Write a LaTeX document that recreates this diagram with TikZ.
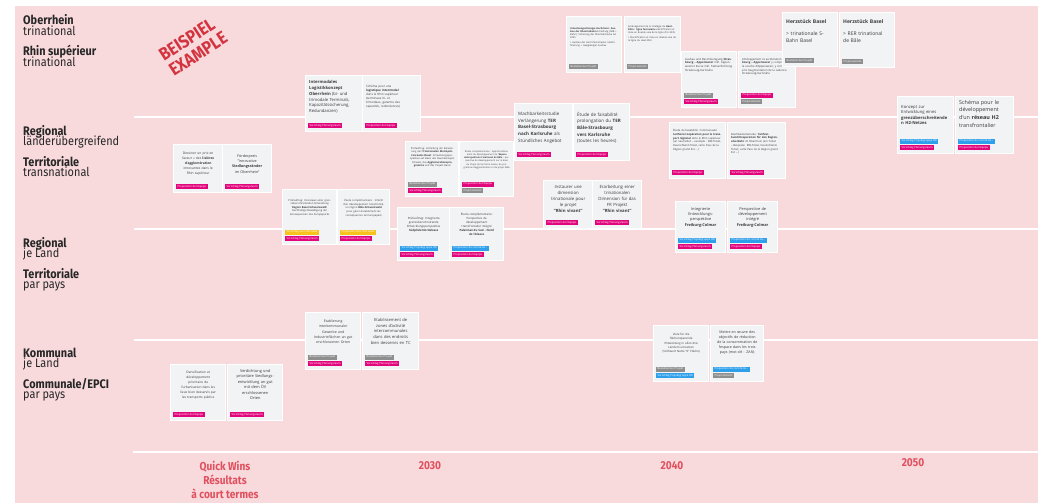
\documentclass[tikz,border=0pt]{standalone}
\usepackage{fontspec}
\setmainfont{Open Sans}
\newfontfamily\lblfont[FakeStretch=0.88]{Fira Sans}
\definecolor{bgpink}{HTML}{F8DADD}
\definecolor{cardfill}{HTML}{F2F3F5}
\definecolor{tmag}{HTML}{E2067C}
\definecolor{tgray}{HTML}{8E8E8E}
\definecolor{tyel}{HTML}{F7C21B}
\definecolor{tblue}{HTML}{2E9FEA}
\definecolor{redlbl}{HTML}{D3343F}
\definecolor{redyear}{HTML}{E0505E}
\definecolor{cardtext}{HTML}{3A3A3A}
\tikzset{
  cardbox/.style={draw=white,line width=1.4pt,fill=cardfill,inner sep=0pt},
  cardtxt/.style={inner sep=0pt,text=cardtext},
  ctr/.style={align=center},
  lft/.style={align=left},
  tagbox/.style={inner xsep=1.3pt,inner ysep=0pt,minimum height=4.8pt,text height=2pt,text depth=0.6pt,text=white,font=\fontsize{2.7}{3}\selectfont},
  lvlb/.style={anchor=base west,inner sep=0pt,font=\lblfont\bfseries\fontsize{12.4}{12}\selectfont,text=black!85},
  lvlr/.style={anchor=base west,inner sep=0pt,font=\lblfont\fontsize{12.4}{12}\selectfont,text=black!85},
  yearlbl/.style={inner sep=0pt,text=redyear,font=\lblfont\bfseries\fontsize{11.5}{14}\selectfont,align=center},
  gridline/.style={draw=white,line width=1.2pt}
}
\newcommand\card[8]{%
  \node[cardbox,minimum width=#4pt,minimum height=#5pt,anchor=north west] (#1) at (#2,#3) {};
  \pgfmathsetmacro\cardtw{#4-7}%
  \node[cardtxt,#7,text width=\cardtw pt,anchor=north] (#1-t) at ([yshift=-#6pt]#1.north) {#8};
}
\newcommand\tagbx[5]{%
  \node[tagbox,fill=#4,anchor=south west] (#1) at ([xshift=3pt,yshift={4pt+(#3-1)*6.7pt}]#2.south west) {#5};
}
\begin{document}
\begin{tikzpicture}[x=1pt,y=-1pt]
\useasboundingbox (0,0) rectangle (1038,503);
\fill[white] (0,0) rectangle (1038,503);
\fill[bgpink] (15,6) rectangle (1038,503);
% grid lines
\coordinate (l1a) at (134,117); \coordinate (l1b) at (1038,117);
\coordinate (l2a) at (134,229); \coordinate (l2b) at (1038,229);
\coordinate (l3a) at (134,340); \coordinate (l3b) at (1038,340);
\coordinate (l4a) at (133,452); \coordinate (l4b) at (1038,452);
\draw[gridline] (l1a) -- (l1b);
\draw[gridline] (l2a) -- (l2b);
\draw[gridline] (l3a) -- (l3b);
\draw[draw=white,line width=2.4pt] (l4a) -- (l4b);
% level labels
\node[lvlb] (o1) at (23,25) {Oberrhein};
\node[lvlr] (o2) at (23,35.5) {trinational};
\node[lvlb] (o3) at (23,56) {Rhin supérieur};
\node[lvlr] (o4) at (23,66.5) {trinational};
\node[lvlb] (r1) at (23,135) {Regional};
\node[lvlr] (r2) at (23,145.5) {länderübergreifend};
\node[lvlb] (r3) at (23,166) {Territoriale};
\node[lvlr] (r4) at (23,176.5) {transnational};
\node[lvlb] (p1) at (23,247) {Regional};
\node[lvlr] (p2) at (23,257.5) {je Land};
\node[lvlb] (p3) at (23,278) {Territoriale};
\node[lvlr] (p4) at (23,288.5) {par pays};
\node[lvlb] (k1) at (23,357) {Kommunal};
\node[lvlr] (k2) at (23,367.5) {je Land};
\node[lvlb] (k3) at (23,388) {Communale/EPCI};
\node[lvlr] (k4) at (23,398.5) {par pays};
% example stamp
\node[rotate=33,text=redlbl,font=\lblfont\bfseries\fontsize{18}{18}\selectfont,align=left,inner sep=0pt] (stamp) at (193,46) {BEISPIEL\\EXAMPLE};
% time axis
\node[yearlbl] (qw) at (225,480) {Quick Wins\\Résultats\\à court termes};
\node[yearlbl] (y30) at (430,466) {2030};
\node[yearlbl] (y40) at (672,466) {2040};
\node[yearlbl] (y50) at (913,463) {2050};
% ---- cards top row
\card{c21}{566}{16}{55}{56}{11}{lft,font=\fontsize{2.4}{3.2}\selectfont}{\textbf{Umsetzungsstrategie Hochrhein: Ausbau der Rheintalbahn} Erstellung (SBB + Bahn): Sicherung der Rheintalstrecke bis 2035\\[1.5pt]> Ausbau der Hochrheinstrecke: Elektrifizierung + zweigleisiger Ausbau}
\tagbx{g21}{c21}{1}{tgray}{Bestehendes Projekt}
\card{c22}{624}{16}{56}{56}{9}{lft,font=\fontsize{2.4}{3.2}\selectfont}{Aménagement de la stratégie du \textbf{Haut-Rhin : ligne ferroviaire} électrification et mise en double voie de la ligne d'ici 2035\\[1.5pt]> Électrification et mise en double voie de la ligne du Haut-Rhin}
\tagbx{g22}{c22}{1}{tgray}{Projet existant}
\card{c23}{681}{51}{55}{56}{7}{lft,font=\fontsize{2.8}{3.6}\selectfont}{Ausbau und Beschleunigung \textbf{Strasbourg -- Appenweier} inkl. Appenweierer Kurve inkl. Taktverdichtung Strasbourg-Karlsruhe}
\tagbx{g23b}{c23}{2}{tgray}{Bestehendes Projekt}
\tagbx{g23a}{c23}{1}{tmag}{Vorschlag Planungsraum}
\card{c24}{738}{51}{57}{56}{7}{lft,font=\fontsize{2.8}{3.6}\selectfont}{Aménagement et accélération \textbf{Strasbourg -- Appenweier} y compris la courbe d'Appenweier, y compris l'augmentation de la cadence Strasbourg-Karlsruhe}
\tagbx{g24b}{c24}{2}{tmag}{Proposition de l'équipe}
\tagbx{g24a}{c24}{1}{tgray}{Projet existant}
\card{c25}{782}{12}{55}{54}{8}{lft,font=\fontsize{5}{7}\selectfont}{\textbf{Herzstück Basel}\\[5pt]> trinationale S-\\Bahn Basel}
\tagbx{g25}{c25}{1}{tgray}{Bestehendes Projekt}
\card{c26}{839}{12}{55}{55}{8}{lft,font=\fontsize{5}{7}\selectfont}{\textbf{Herzstück Basel}\\[5pt]> RER trinational\\de Bâle}
\tagbx{g26}{c26}{1}{tgray}{Projet existant}
% ---- second band
\card{c9}{305}{75}{57}{56}{5}{lft,font=\fontsize{4.2}{5.9}\selectfont}{\textbf{Intermodales}\\\textbf{Logistikkonzept}\\\textbf{Oberrhein} (bi- und\\trimodale Terminals,\\Kapazitätssicherung,\\Redundanzen)}
\tagbx{g9}{c9}{1}{tmag}{Vorschlag Planungsraum}
\card{c10}{362}{75}{58}{56}{10}{lft,font=\fontsize{3}{4.1}\selectfont}{Schéma pour une\\\textbf{logistique intermodal}\\dans le Rhin supérieur\\(terminaux bi- et\\trimodaux, garantie des\\capacités, redondances)}
\tagbx{g10}{c10}{1}{tmag}{Proposition de l'équipe}
\card{c11}{514}{103}{58}{57}{9}{lft,font=\fontsize{4.5}{6.6}\selectfont}{Machbarkeitsstudie\\Verlängerung \textbf{TER}\\\textbf{Basel-Strasbourg}\\\textbf{nach Karlsruhe} als\\Stündliches Angebot}
\tagbx{g11}{c11}{1}{tmag}{Vorschlag Planungsraum}
\card{c12}{573}{103}{56}{57}{9}{lft,font=\fontsize{4.5}{6.6}\selectfont}{Étude de faisabilité\\prolongation du \textbf{TER}\\\textbf{Bâle-Strasbourg}\\\textbf{vers Karlsruhe}\\(toutes les heures)}
\tagbx{g12}{c12}{1}{tmag}{Proposition de l'équipe}
\card{c19}{897}{96}{56}{57}{9}{lft,font=\fontsize{4.2}{5.6}\selectfont}{Konzept zur\\Entwicklung eines\\\textbf{grenzüberschreitende}\\\textbf{n H2-Netzes}}
\tagbx{g19b}{c19}{2}{tblue}{Vorschlag Projektgruppe OR}
\tagbx{g19a}{c19}{1}{tmag}{Vorschlag Planungsraum}
\card{c20}{955}{96}{58}{57}{4}{lft,font=\fontsize{5.4}{7.6}\selectfont}{Schéma pour le\\développement\\d'un \textbf{réseau H2}\\transfrontalier}
\tagbx{g20b}{c20}{2}{tblue}{Proposition du comité du...}
\tagbx{g20a}{c20}{1}{tmag}{Proposition de l'équipe}
% ---- third band
\card{c1}{173}{144}{49}{48}{8}{ctr,font=\fontsize{3.3}{4.9}\selectfont}{Dessiner un prix en\\faveur « des \textbf{lisières}\\\textbf{d'agglomération}\\innovantes dans le\\Rhin supérieur}
\tagbx{g1}{c1}{1}{tmag}{Proposition de l'équipe}
\card{c2}{222}{144}{49}{48}{10}{ctr,font=\fontsize{3.7}{5.4}\selectfont}{Förderpreis\\"Innovative\\\textbf{Siedlungsränder}\\im Oberrhein"}
\tagbx{g2}{c2}{1}{tmag}{Vorschlag Planungsraum}
\card{c7}{405}{141}{53}{55}{6}{ctr,font=\fontsize{2.5}{3.5}\selectfont}{Prüfauftrag: Vertiefung der Entwicklung des \textbf{Trinationalen Metropolitanraums Basel}: Entwicklungsperspektive auf Basis des Raumkonzepts Schweiz, des \textbf{Agglomerationsprogramms} und des Projekt Basel}
\tagbx{g7b}{c7}{2}{tgray}{Bestehendes Projekt}
\tagbx{g7a}{c7}{1}{tmag}{Vorschlag Planungsraum}
\card{c8}{459}{141}{54}{55}{9}{ctr,font=\fontsize{2.3}{3.2}\selectfont}{Étude complémentaire : Approfondissement du développement de l'\textbf{Espace métropolitain trinational de Bâle} : perspective de développement sur la base du Projet de territoire Suisse, du programme d'agglomération et du projet Bâle}
\tagbx{g8b}{c8}{2}{tmag}{Proposition de l'équipe}
\tagbx{g8a}{c8}{1}{tgray}{Projet existant}
\card{c17}{669}{122}{56}{56}{7}{lft,font=\fontsize{2.7}{3.7}\selectfont}{Étude de faisabilité: Communauté \textbf{tarifaire/coopération pour le transport régional} dans le Rhin supérieur (un 'seul billet' -- exemple : BW-Ticket, Deutschland-Ticket, carte Pass de la Région grand Est ...)}
\tagbx{g17}{c17}{1}{tmag}{Proposition de l'équipe}
\card{c18}{727}{122}{58}{56}{11}{lft,font=\fontsize{2.7}{3.7}\selectfont}{Machbarkeitsstudie: \textbf{Tarifverbund/Kooperation für den Regionalverkehr} im Oberrhein (ein Ticket -- Beispiele: BW-Ticket, Deutschland-Ticket, carte Pass de la Région grand Est ...)}
\tagbx{g18}{c18}{1}{tmag}{Vorschlag Planungsraum}
\card{c13}{543}{180}{49}{48}{5}{ctr,font=\fontsize{4.3}{6.1}\selectfont}{Instaurer une\\dimension\\trinationale pour\\le projet\\\textbf{"Rhin vivant"}}
\tagbx{g13}{c13}{1}{tmag}{Proposition de l'équipe}
\card{c14}{592}{180}{49}{48}{5}{ctr,font=\fontsize{4.3}{6.1}\selectfont}{Erarbeitung einer\\trinationalen\\Dimension für das\\FR Projekt\\\textbf{"Rhin vivant"}}
\tagbx{g14}{c14}{1}{tmag}{Vorschlag Planungsraum}
\card{c3}{282}{189}{54}{55}{10}{ctr,font=\fontsize{2.6}{3.6}\selectfont}{Prüfauftrag: Interviews einer grenzüberschreitenden Entwicklung \textbf{Region Basel-Schwarzwald}: Nachhaltige Bewältigung der Konsequenzen des Europaparks}
\tagbx{g3b}{c3}{2}{tyel}{Vorschlag aus Interviews}
\tagbx{g3a}{c3}{1}{tmag}{Vorschlag Planungsraum}
\card{c4}{337}{189}{52}{55}{10}{ctr,font=\fontsize{2.6}{3.6}\selectfont}{Étude complémentaire : Intérêt d'un développement transfrontalier région \textbf{Bâle-Schwarzwald} pour gérer durablement les conséquences de Europapark}
\tagbx{g4b}{c4}{2}{tyel}{Proposition des interviews}
\tagbx{g4a}{c4}{1}{tmag}{Proposition de l'équipe}
\card{c5}{397}{207}{52}{53}{10}{ctr,font=\fontsize{2.9}{4}\selectfont}{Prüfauftrag: Integrierte\\grenzüberschreitende\\Entwicklungsperspektive\\\textbf{Südpfalz-Nordelsass}}
\tagbx{g5b}{c5}{2}{tblue}{Vorschlag Projektgruppe OR}
\tagbx{g5a}{c5}{1}{tmag}{Vorschlag Planungsraum}
\card{c6}{449}{207}{54}{53}{6}{ctr,font=\fontsize{2.9}{4}\selectfont}{Étude complémentaire:\\Perspective de\\développement\\transfrontalier intégré\\\textbf{Palatinat du Sud - Nord}\\\textbf{de l'Alsace}}
\tagbx{g6b}{c6}{2}{tblue}{Proposition du comité du...}
\tagbx{g6a}{c6}{1}{tmag}{Proposition de l'équipe}
\card{c15}{675}{201}{50}{51}{6}{ctr,font=\fontsize{3.9}{5.4}\selectfont}{Integrierte\\Entwicklungs-\\perspektive\\\textbf{Freiburg-Colmar}}
\tagbx{g15b}{c15}{2}{tblue}{Vorschlag Projektgruppe OR}
\tagbx{g15a}{c15}{1}{tmag}{Vorschlag Planungsraum}
\card{c16}{727}{201}{50}{51}{6}{ctr,font=\fontsize{3.9}{5.4}\selectfont}{Perspective de\\développement\\intégré\\\textbf{Freiburg-Colmar}}
\tagbx{g16b}{c16}{2}{tblue}{Proposition du comité du...}
\tagbx{g16a}{c16}{1}{tmag}{Proposition de l'équipe}
% ---- local band
\card{c27}{305}{312}{55}{57}{8}{ctr,font=\fontsize{3.5}{5.1}\selectfont}{Etablierung\\interkommunaler\\Gewerbe und\\Industrieflächen an gut\\erschlossenen Orten}
\tagbx{g27b}{c27}{2}{tgray}{Bestehendes Projekt}
\tagbx{g27a}{c27}{1}{tmag}{Vorschlag Planungsraum}
\card{c28}{362}{312}{56}{57}{6}{ctr,font=\fontsize{4.1}{5.7}\selectfont}{Etablissement de\\zones d'activité\\intercommunales\\dans des endroits\\bien desservis en TC}
\tagbx{g28b}{c28}{2}{tgray}{Bestehendes Projekt}
\tagbx{g28a}{c28}{1}{tmag}{Vorschlag Planungsraum}
\card{c29}{170}{364}{55}{56}{7}{ctr,font=\fontsize{3.2}{5}\selectfont}{Densification et\\développement\\prioritaire de\\l'urbanisation dans les\\lieux bien desservis par\\les transports publics}
\tagbx{g29}{c29}{1}{tmag}{Proposition de l'équipe}
\card{c30}{227}{364}{55}{56}{5}{ctr,font=\fontsize{3.9}{5.5}\selectfont}{Verdichtung und\\prioritäre Siedlungs-\\entwicklung an gut\\mit dem ÖV\\erschlossenen\\Orten}
\tagbx{g30}{c30}{1}{tmag}{Vorschlag Planungsraum}
\card{c31}{653}{325}{55}{56}{8}{ctr,font=\fontsize{2.9}{4.3}\selectfont}{Ziele für die\\flächensparende\\Entwicklung in allen drei\\Ländern umsetzen\\(Stichwort Netto "0" Fläche)}
\tagbx{g31b}{c31}{2}{tgray}{Bestehendes Projekt}
\tagbx{g31a}{c31}{1}{tblue}{Vorschlag Projektgruppe OR}
\card{c32}{710}{325}{53}{56}{6}{ctr,font=\fontsize{3.6}{5}\selectfont}{Mettre en œuvre des\\objectifs de réduction\\de la consommation de\\l'espace dans les trois\\pays (mot-clé : ZAN)}
\tagbx{g32b}{c32}{2}{tblue}{Proposition du comité du...}
\tagbx{g32a}{c32}{1}{tgray}{Projet existant}
\end{tikzpicture}
\end{document}
